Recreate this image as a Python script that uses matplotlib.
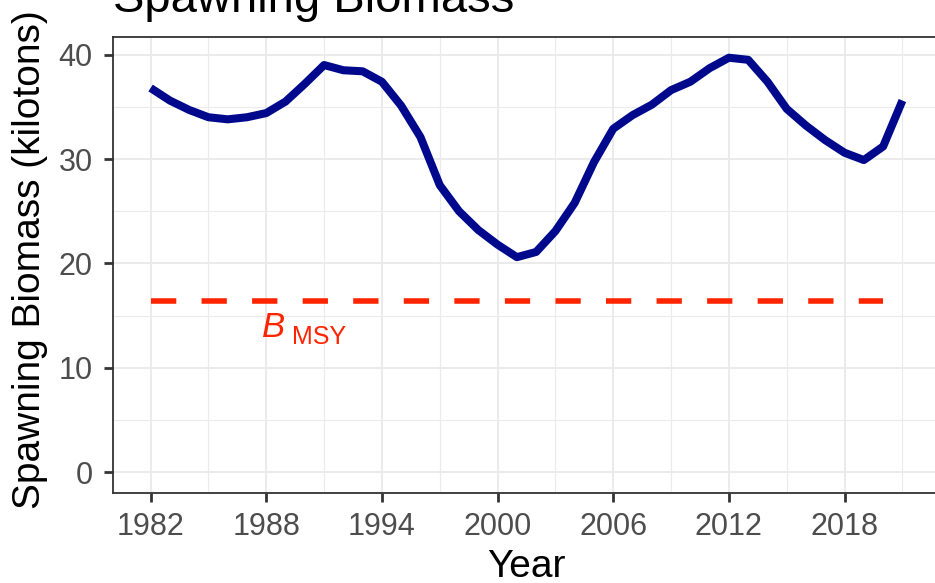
import matplotlib
matplotlib.use('Agg')
import matplotlib.pyplot as plt

plt.rcParams['font.family'] = ['Liberation Sans', 'DejaVu Sans']

# data
years = list(range(1982, 2022))
biomass = [36.8, 35.6, 34.7, 34.0, 33.8, 34.0, 34.4, 35.5, 37.2, 39.0,
           38.5, 38.4, 37.4, 35.1, 32.1, 27.5, 25.0, 23.2, 21.8, 20.6,
           21.1, 23.1, 25.8, 29.7, 32.9, 34.2, 35.2, 36.6, 37.4, 38.7,
           39.7, 39.5, 37.4, 34.8, 33.2, 31.8, 30.6, 29.9, 31.2, 35.6]
bmsy_years = [1982, 2020]
bmsy = [16.4, 16.4]
x_major = [1982, 1988, 1994, 2000, 2006, 2012, 2018]
x_minor = [1985, 1991, 1997, 2003, 2009, 2015, 2021]
y_major = [0, 10, 20, 30, 40]
y_minor = [5, 15, 25, 35]

W, H = 935, 583
fig = plt.figure(figsize=(W / 100, H / 100), dpi=100)
ax = fig.add_axes([113 / W, 1 - 493 / H, (940 - 113) / W, (493 - 37) / H])

grid_col = '#EBEBEB'
for v in x_major:
    ax.axvline(v, color=grid_col, lw=1.4, zorder=0)
for v in x_minor:
    ax.axvline(v, color=grid_col, lw=0.8, zorder=0)
for v in y_major:
    ax.axhline(v, color=grid_col, lw=1.4, zorder=0)
for v in y_minor:
    ax.axhline(v, color=grid_col, lw=0.8, zorder=0)

ax.plot(bmsy_years, bmsy, color='#FF2400', lw=4,
        linestyle=(0, (4.55, 4.55)), dash_capstyle='butt', zorder=2)
ax.plot(years, biomass, color='#00098C', lw=5.8, solid_capstyle='butt',
        solid_joinstyle='round', zorder=3)

# B_MSY label: italic B with regular subscript
ax.text(1987.8, 12.95, 'B', color='#FF2400', fontsize=25, style='italic',
        ha='left', va='baseline')
ax.text(1989.35, 12.3, 'MSY', color='#FF2400', fontsize=18,
        ha='left', va='baseline')

span = years[-1] - years[0]
ax.set_xlim(years[0] - 0.05 * span, years[-1] + 0.05 * span)
ax.set_ylim(-0.05 * max(biomass), max(biomass) * 1.05)
ax.set_xticks(x_major)
ax.set_yticks(y_major)

for s in ax.spines.values():
    s.set_color('#333333')
    s.set_linewidth(1.3)
ax.tick_params(axis='both', colors='#333333', length=6.5, width=2,
               labelsize=22, labelcolor='#4D4D4D')
ax.tick_params(axis='x', pad=7)
ax.tick_params(axis='y', pad=8)

fig.text(113 / W, 1 - 12 / H, 'Spawning Biomass', fontsize=34,
         ha='left', va='baseline', color='black')
fig.text(30 / W, 1 - 260 / H, 'Spawning Biomass (kilotons)', fontsize=28,
         rotation=90, ha='center', va='center', color='black')
fig.text(526.5 / W, 1 - 577 / H, 'Year', fontsize=28,
         ha='center', va='baseline', color='black')

plt.savefig('out.png', dpi=100)
